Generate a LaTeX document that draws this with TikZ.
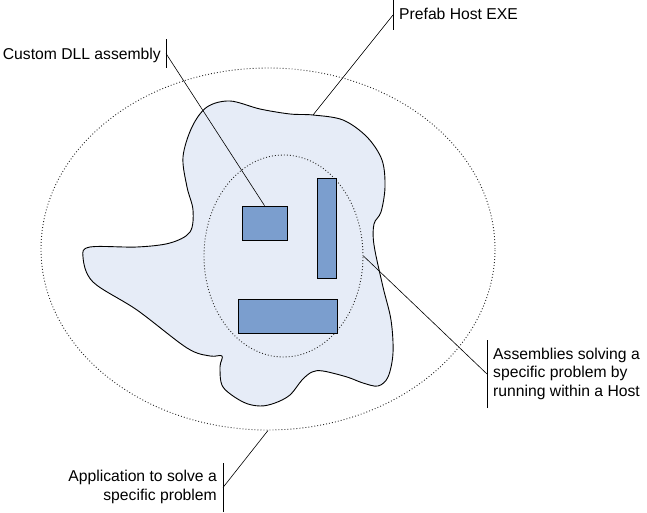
\documentclass[tikz,border=0pt]{standalone}
\usepackage{fontspec}
\setmainfont{Liberation Sans}
\usepackage{tikz}
\usetikzlibrary{positioning,shapes.geometric}
\definecolor{hostfill}{RGB}{230,236,247}
\definecolor{partfill}{RGB}{123,158,206}
\tikzstyle{zone}=[draw=black!85,ellipse,inner sep=0pt,dash pattern=on 0.9pt off 2.1pt,line width=0.9pt]
\tikzstyle{part}=[draw,fill=partfill,inner sep=0pt,line width=0.8pt]
\tikzstyle{label}=[inner sep=0pt,font=\fontsize{15.7}{18.5}\selectfont]
\tikzstyle{leader}=[line width=0.6pt]

\begin{document}
\begin{tikzpicture}[x=1pt,y=-1pt]
    \useasboundingbox (0,0) rectangle (647,513);
    % application and host
    \node [zone,minimum width=454pt,minimum height=362pt] (app) at (268,249) {};
    \draw [fill=hostfill,line width=0.9pt] plot [smooth cycle,tension=0.55] coordinates {
      (230,101) (260,109) (290,114) (313,115) (343,120) (367,137) (382,160)
      (385,187) (381,212) (374,224) (374,245) (383,287) (391,320) (393,353)
      (388,377) (378,386) (363,383) (347,377) (323,371) (312,372) (302,380)
      (290,395) (275,403) (260,406) (243,402) (223,387) (220,367) (222,356)
      (210,356) (187,348) (137,310) (93,282) (83,257) (90,247) (137,247)
      (170,243) (190,232) (193,210) (187,187) (183,157) (192,127) (207,107)};
    \coordinate (hostpt) at (313,115);
    \node [zone,minimum width=159pt,minimum height=202pt] (core) at (283.5,256) {};
    % assemblies
    \node [part,minimum width=45pt,minimum height=34pt] (dll) at (264.5,223) {};
    \node [part,minimum width=19pt,minimum height=100pt] (tall) at (326.5,228) {};
    \node [part,minimum width=99pt,minimum height=34pt] (wide) at (287.5,316) {};
    % labels
    \node [label,anchor=base east] (dlltext) at (161,60) {Custom DLL assembly};
    \node [label,anchor=base west] (hosttext) at (399,20) {Prefab Host EXE};
    \node [label,anchor=west,align=left] (coretext) at (493,373.5)
      {Assemblies solving a\\specific problem by\\running within a Host};
    \node [label,anchor=east,align=right] (apptext) at (217,487)
      {Application to solve a\\specific problem};
    \coordinate (dllbar) at (166,53.5);
    \coordinate (hostbar) at (393,15);
    \coordinate (corebar) at (487,374);
    \coordinate (appbar) at (223,487.5);
    \draw [leader] ([yshift=-14.5pt]dllbar) -- ([yshift=14.5pt]dllbar);
    \draw [leader] ([yshift=-15pt]hostbar) -- ([yshift=15pt]hostbar);
    \draw [leader] ([yshift=-34pt]corebar) -- ([yshift=34pt]corebar);
    \draw [leader] ([yshift=-24.5pt]appbar) -- ([yshift=24.5pt]appbar);
    \draw [leader] (dllbar) -- (dll.north);
    \draw [leader] (hostbar) -- (hostpt);
    \draw [leader] (corebar) -- (core.east);
    \draw [leader] (appbar) -- (app.south);
\end{tikzpicture}
\end{document}
